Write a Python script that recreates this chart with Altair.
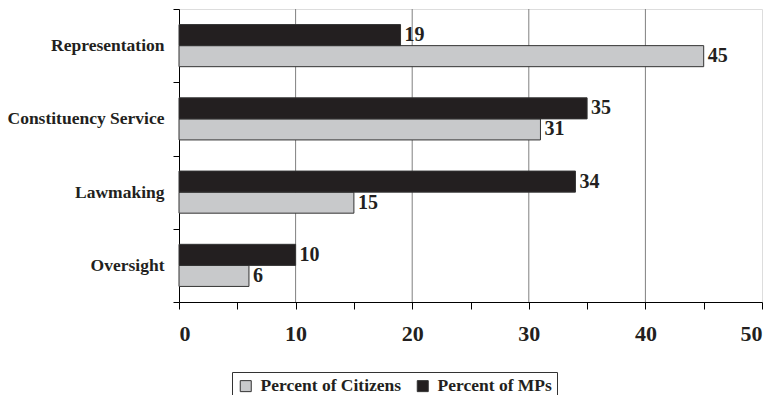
import altair as alt
import pandas as pd

categories = ["Representation", "Constituency Service", "Lawmaking", "Oversight"]
citizens = [45, 31, 15, 6]
mps = [19, 35, 34, 10]
series = ["Percent of Citizens", "Percent of MPs"]
grid_values = [10, 20, 30, 40]
tick_values = [0, 5, 10, 15, 20, 25, 30, 35, 40, 45, 50]

rows = []
for c, v in zip(categories, citizens):
    rows.append({"category": c, "series": series[0], "value": v})
for c, v in zip(categories, mps):
    rows.append({"category": c, "series": series[1], "value": v})
df = pd.DataFrame(rows)
grid_df = pd.DataFrame({"value": grid_values})

FONT = "Liberation Serif"

xscale = alt.Scale(domain=[0, 50], nice=False, zero=True)
yscale = alt.Scale(domain=categories, paddingInner=0, paddingOuter=0)
yoff_scale = alt.Scale(domain=[series[1], series[0]], paddingInner=0, paddingOuter=0.74)

xaxis = alt.Axis(
    values=tick_values,
    labelExpr="datum.value % 10 === 0 ? datum.label : ''",
    grid=False,
    title=None,
    domainColor="#000000",
    tickColor="#000000",
    tickSize=7,
    labelPadding=14,
    labelFont=FONT,
    labelFontSize=22,
    labelFontWeight="bold",
    labelColor="#231f20",
)

grid = alt.Chart(grid_df).mark_rule(color="#808080", strokeWidth=1).encode(
    x=alt.X("value:Q", scale=xscale, axis=xaxis)
)

bars = alt.Chart(df).mark_bar(stroke="#333333", strokeWidth=1).encode(
    x=alt.X("value:Q", scale=xscale, axis=xaxis),
    y=alt.Y(
        "category:N",
        scale=yscale,
        sort=categories,
        axis=alt.Axis(
            title=None,
            tickBand="extent",
            domainColor="#000000",
            tickColor="#000000",
            tickSize=6,
            labelPadding=9,
            labelFont=FONT,
            labelFontSize=17.5,
            labelFontWeight="bold",
            labelColor="#231f20",
            labelLimit=300,
        ),
    ),
    yOffset=alt.YOffset("series:N", scale=yoff_scale),
    color=alt.Color(
        "series:N",
        scale=alt.Scale(domain=series, range=["#c8c9cb", "#231f20"]),
        legend=alt.Legend(
            title=None,
            orient="none",
            legendX=53,
            legendY=363,
            direction="horizontal",
            symbolType="square",
            symbolSize=121,
            symbolStrokeColor="#333333",
            symbolStrokeWidth=1,
            labelFont=FONT,
            labelFontSize=17.5,
            labelFontWeight="bold",
            labelColor="#231f20",
            labelOffset=6,
            columnPadding=12,
            padding=5,
            strokeColor="#333333",
            fillColor="#ffffff",
        ),
    ),
)

labels = alt.Chart(df).mark_text(
    align="left", baseline="middle", dx=4, font=FONT, fontSize=20,
    fontWeight="bold", color="#231f20"
).encode(
    x=alt.X("value:Q", scale=xscale, axis=xaxis),
    y=alt.Y("category:N", scale=yscale, sort=categories),
    yOffset=alt.YOffset("series:N", scale=yoff_scale),
    text=alt.Text("value:Q"),
)

chart = alt.layer(grid, bars, labels).properties(
    width=583,
    height=293,
    autosize=alt.AutoSizeParams(type="none"),
    padding={"left": 179, "top": 9, "right": 13, "bottom": 93},
).configure_view(
    stroke="#444444", strokeWidth=1
).configure(background="#ffffff")

chart.save("out.html", embed_options={"renderer": "svg", "actions": False})
